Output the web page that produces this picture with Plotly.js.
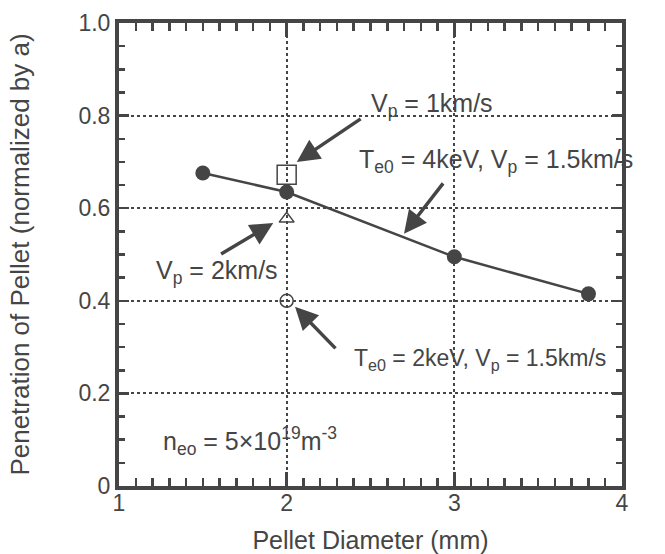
<!DOCTYPE html>
<html>
<head>
<meta charset="utf-8">
<script src="https://cdn.plot.ly/plotly-3.0.1.min.js"></script>
<style>html,body{margin:0;padding:0;background:#fff;}#chart{width:665px;height:554px;}</style>
</head>
<body>
<div id="chart"></div>
<script>
// Main series: Te0 = 4 keV, Vp = 1.5 km/s
const diameter = [1.5, 2, 3, 3.8];
const penetration = [0.676, 0.635, 0.495, 0.415];
// Variants at 2 mm
const vp1Diam = [2], vp1Pen = [0.672];       // Vp = 1 km/s (square)
const vp2Diam = [2], vp2Pen = [0.577];       // Vp = 2 km/s (triangle)
const te2Diam = [2], te2Pen = [0.400];       // Te0 = 2 keV (open circle)

const ink = '#454545';
const fontFam = 'Liberation Sans, Arial, Helvetica, sans-serif';

const traces = [
  {x: diameter, y: penetration, mode: 'lines+markers', type: 'scatter',
   line: {color: ink, width: 2.5}, marker: {symbol: 'circle', size: 15, color: ink}},
  {x: vp1Diam, y: vp1Pen, mode: 'markers', type: 'scatter',
   marker: {symbol: 'square-open', size: 19, color: ink, line: {width: 1.5, color: ink}}},
  {x: vp2Diam, y: vp2Pen, mode: 'markers', type: 'scatter',
   marker: {symbol: 'triangle-up-open', size: 13, color: ink, line: {width: 1.5, color: ink}}},
  {x: te2Diam, y: te2Pen, mode: 'markers', type: 'scatter',
   marker: {symbol: 'circle-open', size: 13, color: ink, line: {width: 1.5, color: ink}}}
];

const tf = {family: fontFam, size: 25, color: ink};
function label(text, x, y, size) {
  return {text: text, x: x, y: y, xref: 'x', yref: 'y', showarrow: false,
          xanchor: 'left', yanchor: 'middle', font: Object.assign({}, tf, size ? {size: size} : {})};
}
function arrow(x, y, ax, ay) {
  return {text: '', x: x, y: y, ax: ax, ay: ay, xref: 'x', yref: 'y', axref: 'x', ayref: 'y',
          showarrow: true, arrowhead: 2, arrowsize: 1.3, arrowwidth: 3.5, arrowcolor: ink};
}

const layout = {
  width: 665, height: 554,
  margin: {l: 119, r: 43, t: 23, b: 68},
  paper_bgcolor: '#fff', plot_bgcolor: '#fff',
  showlegend: false,
  font: {family: fontFam, color: ink},
  xaxis: {
    range: [1, 4], tickmode: 'linear', tick0: 1, dtick: 1,
    ticks: 'inside', ticklen: 14, tickwidth: 2.5, tickcolor: ink,
    showline: true, linewidth: 4, linecolor: ink, mirror: 'allticks',
    showgrid: true, gridcolor: ink, gridwidth: 2, griddash: 'dot', zeroline: false,
    tickfont: {family: fontFam, size: 23, color: ink}, ticklabelstandoff: -7,
    minor: {tickmode: 'linear', tick0: 1, dtick: 0.1, ticks: 'inside', ticklen: 8, tickwidth: 2.5, tickcolor: ink, showgrid: false},
    title: {text: 'Pellet Diameter (mm)', font: {family: fontFam, size: 25, color: ink}, standoff: 18}
  },
  yaxis: {
    range: [0, 1], tickmode: 'linear', tick0: 0, dtick: 0.2, tickformat: '.1f', labelalias: {'0.0': '0'},
    ticks: 'inside', ticklen: 10, tickwidth: 2.5, tickcolor: ink,
    showline: true, linewidth: 4, linecolor: ink, mirror: 'allticks',
    showgrid: true, gridcolor: ink, gridwidth: 2, griddash: 'dot', zeroline: false,
    tickfont: {family: fontFam, size: 23, color: ink},
    minor: {tickmode: 'linear', tick0: 0, dtick: 0.05, ticks: 'inside', ticklen: 6, tickwidth: 2.5, tickcolor: ink, showgrid: false},
    title: {text: 'Penetration of Pellet (normalized by a)', font: {family: fontFam, size: 26, color: ink}, standoff: 42}
  },
  annotations: [
    label('V<sub>p</sub> = 1km/s', 2.49, 0.822),
    label('T<sub>e0</sub> = 4keV, V<sub>p</sub> = 1.5km/s', 2.42, 0.703),
    label('V<sub>p</sub> = 2km/s', 1.21, 0.462),
    label('T<sub>e0</sub> = 2keV, V<sub>p</sub> = 1.5km/s', 2.39, 0.273, 23),
    label('n<sub>eo</sub> = 5×10<sup>19</sup>m<sup>-3</sup>', 1.25, 0.097),
    arrow(2.06, 0.70, 2.45, 0.795),
    arrow(2.70, 0.545, 2.94, 0.657),
    arrow(1.92, 0.568, 1.60, 0.499),
    arrow(2.05, 0.387, 2.30, 0.294)
  ]
};

Plotly.newPlot('chart', traces, layout, {displayModeBar: false, staticPlot: true});
</script>
</body>
</html>
